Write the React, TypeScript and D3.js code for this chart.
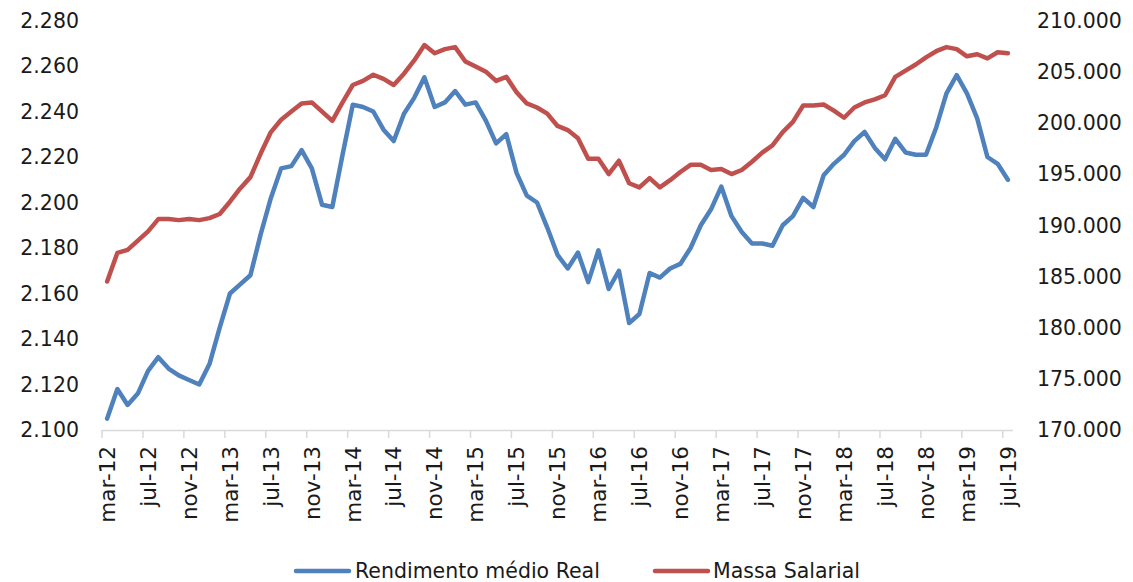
import React from 'react';
import * as d3 from 'd3';

// monthly series, mar-12 .. jul-19
const rendimento = [
  2105, 2118, 2111, 2116, 2126, 2132, 2127, 2124, 2122, 2120, 2129, 2145,
  2160, 2164, 2168, 2186, 2202, 2215, 2216, 2223, 2215, 2199, 2198, 2221,
  2243, 2242, 2240, 2232, 2227, 2239, 2246, 2255, 2242, 2244, 2249, 2243,
  2244, 2236, 2226, 2230, 2213, 2203, 2200, 2189, 2177, 2171, 2178, 2165,
  2179, 2162, 2170, 2147, 2151, 2169, 2167, 2171, 2173, 2180, 2190, 2197,
  2207, 2194, 2187, 2182, 2182, 2181, 2190, 2194, 2202, 2198, 2212, 2217,
  2221, 2227, 2231, 2224, 2219, 2228, 2222, 2221, 2221, 2233, 2248, 2256,
  2248, 2237, 2220, 2217, 2210,
];

const massa = [
  184500, 187300, 187600, 188500, 189400, 190600, 190600, 190500, 190600, 190500, 190700, 191100,
  192300, 193600, 194700, 197000, 199100, 200300, 201100, 201900, 202000, 201100, 200200, 202000,
  203700, 204100, 204700, 204300, 203700, 204800, 206100, 207600, 206800, 207200, 207400, 206000,
  205500, 205000, 204100, 204500, 203000, 201900, 201500, 200900, 199700, 199300, 198500, 196500,
  196500, 195000, 196300, 194100, 193700, 194600, 193700, 194400, 195200, 195900, 195900, 195400,
  195500, 195000, 195400, 196200, 197100, 197800, 199100, 200100, 201700, 201700, 201800, 201200,
  200500, 201500, 202000, 202300, 202700, 204500, 205100, 205700, 206400, 207000, 207400, 207200,
  206500, 206700, 206300, 206900, 206800,
];

const months = d3.timeMonth.range(new Date(2012, 2, 1), new Date(2019, 7, 1));

const tickLabels = [
  'mar-12', 'jul-12', 'nov-12', 'mar-13', 'jul-13', 'nov-13', 'mar-14', 'jul-14',
  'nov-14', 'mar-15', 'jul-15', 'nov-15', 'mar-16', 'jul-16', 'nov-16', 'mar-17',
  'jul-17', 'nov-17', 'mar-18', 'jul-18', 'nov-18', 'mar-19', 'jul-19',
];

const leftTicks = [2100, 2120, 2140, 2160, 2180, 2200, 2220, 2240, 2260, 2280];
const rightTicks = [170000, 175000, 180000, 185000, 190000, 195000, 200000, 205000, 210000];

const seriesNames = ['Rendimento médio Real', 'Massa Salarial'];
const colors = ['#4F81BD', '#C0504D'];

const W = 1133;
const H = 582;
const font = '"DejaVu Sans", sans-serif';

const br = d3.formatLocale({ decimal: ',', thousands: '.', grouping: [3], currency: ['R$', ''] });
const fmt = br.format(',.0f');

export default function App() {
  const x = d3.scaleBand<number>()
    .domain(months.map((_, i) => i))
    .range([102, 1013])
    .padding(0);
  const cx = (i: number) => (x(i) as number) + x.bandwidth() / 2;

  const yL = d3.scaleLinear().domain([2100, 2280]).range([430, 20.5]);
  const yR = d3.scaleLinear().domain([170000, 210000]).range([430, 20.5]);

  const lineL = d3.line<number>().x((_, i) => cx(i)).y(d => yL(d));
  const lineR = d3.line<number>().x((_, i) => cx(i)).y(d => yR(d));

  const tickIdx = months.map((_, i) => i).filter(i => i % 4 === 0);

  const legend = [
    { x0: 296, tx: 355 },
    { x0: 655, tx: 713 },
  ];

  return (
    <div style={{ position: 'fixed', left: 0, top: 0 }}>
      <svg width={W} height={H} style={{ display: 'block', background: '#fff' }} fontFamily={font}>
        {/* x axis */}
        <line x1={102} x2={1013} y1={430.5} y2={430.5} stroke="#D9D9D9" strokeWidth={1.5} />
        {tickIdx.map(i => (
          <line key={'t' + i} x1={x(i)} x2={x(i)} y1={430} y2={438} stroke="#D9D9D9" strokeWidth={1.5} />
        ))}
        {tickIdx.map((i, k) => (
          <text
            key={'l' + i}
            transform={`translate(${cx(i)},446) rotate(-90)`}
            textAnchor="end"
            dy="0.36em"
            fontSize={21.5}
            fill="#1a1a1a"
          >
            {tickLabels[k]}
          </text>
        ))}

        {/* left axis labels */}
        {leftTicks.map(t => (
          <text key={'yl' + t} x={79} y={yL(t)} dy="0.36em" textAnchor="end" fontSize={20.5} fill="#1a1a1a">
            {fmt(t)}
          </text>
        ))}
        {/* right axis labels */}
        {rightTicks.map(t => (
          <text key={'yr' + t} x={1037} y={yR(t)} dy="0.36em" textAnchor="start" fontSize={20.5} fill="#1a1a1a">
            {fmt(t)}
          </text>
        ))}

        {/* lines */}
        <path d={lineR(massa) || ''} fill="none" stroke={colors[1]} strokeWidth={4.5} strokeLinejoin="round" strokeLinecap="round" />
        <path d={lineL(rendimento) || ''} fill="none" stroke={colors[0]} strokeWidth={4.5} strokeLinejoin="round" strokeLinecap="round" />

        {/* legend */}
        {legend.map((l, k) => (
          <g key={'lg' + k}>
            <line x1={l.x0} x2={l.x0 + 53} y1={571} y2={571} stroke={colors[k]} strokeWidth={4.5} strokeLinecap="round" />
            <text x={l.tx} y={578} fontSize={20.5} fill="#1a1a1a">{seriesNames[k]}</text>
          </g>
        ))}
      </svg>
    </div>
  );
}
